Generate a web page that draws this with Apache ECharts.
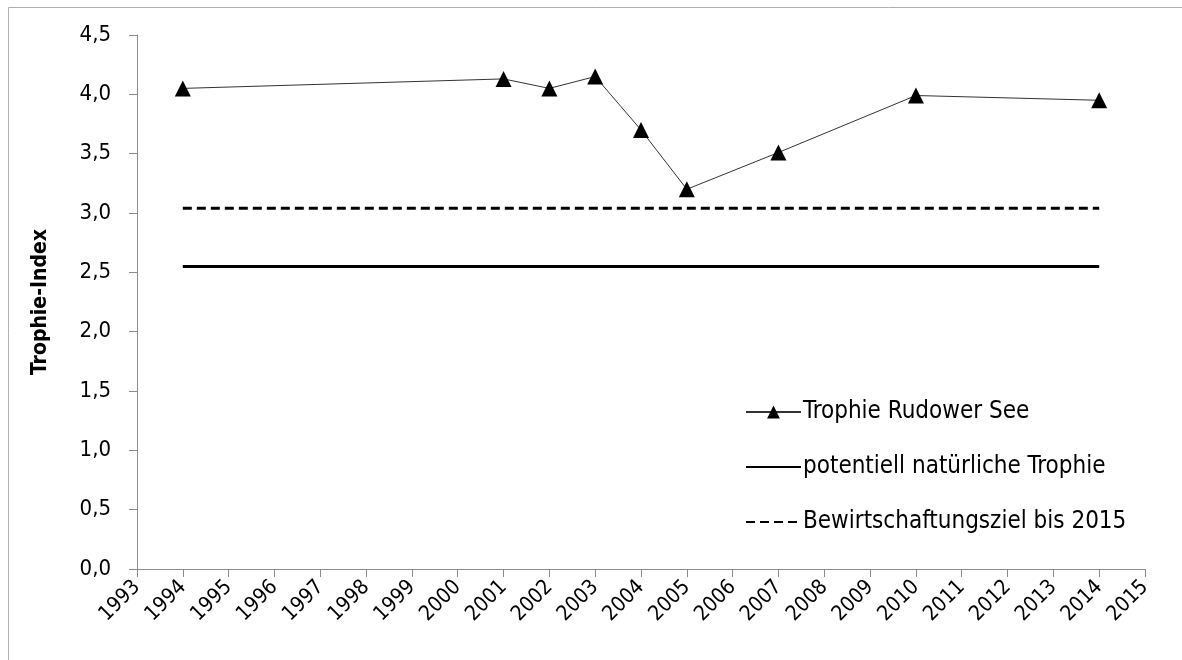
<!DOCTYPE html>
<html>
<head>
<meta charset="utf-8">
<script src="https://cdn.jsdelivr.net/npm/echarts@6/dist/echarts.min.js"></script>
<style>
html,body{margin:0;padding:0;background:#fff;}
#chart{width:1182px;height:660px;}
</style>
</head>
<body>
<div id="chart"></div>
<script>
const years = ['1993','1994','1995','1996','1997','1998','1999','2000','2001','2002','2003','2004','2005','2006','2007','2008','2009','2010','2011','2012','2013','2014','2015'];
const trophieYears = ['1994','2001','2002','2003','2004','2005','2007','2010','2014'];
const trophieValues = [4.05, 4.13, 4.05, 4.15, 3.70, 3.20, 3.51, 3.99, 3.95];
const naturalYears = ['1994','2014'];
const naturalValues = [2.55, 2.55];
const targetYears = ['1994','2014'];
const targetValues = [3.04, 3.04];
const seriesNames = ['Trophie Rudower See','potentiell natürliche Trophie','Bewirtschaftungsziel bis 2015'];

const FONT = '"DejaVu Sans Condensed", "Liberation Sans Narrow", sans-serif';
const pairs = (xs, ys) => xs.map((x, i) => [x, ys[i]]);

const chart = echarts.init(document.getElementById('chart'));
chart.setOption({
  animation: false,
  backgroundColor: '#fff',
  textStyle: { fontFamily: FONT },
  graphic: [{
    type: 'polyline',
    shape: { points: [[8.5, 660], [8.5, 7.5], [1182, 7.5]] },
    style: { stroke: '#b0b0b0', lineWidth: 1, fill: null }
  }],
  grid: { left: 137, right: 37, top: 35, bottom: 91 },
  xAxis: {
    type: 'category',
    data: years,
    boundaryGap: false,
    axisLine: { lineStyle: { color: '#8c8c8c', width: 1 } },
    axisTick: { show: true, length: 8, interval: 0, lineStyle: { color: '#8c8c8c' } },
    axisLabel: { interval: 0, rotate: 45, fontSize: 21, color: '#000', fontFamily: FONT, margin: 15 },
    splitLine: { show: false }
  },
  yAxis: {
    type: 'value',
    min: 0, max: 4.5, interval: 0.5,
    name: 'Trophie-Index',
    nameLocation: 'middle',
    nameGap: 86,
    nameTextStyle: { fontSize: 21, fontWeight: 'bold', color: '#000', fontFamily: FONT },
    axisLine: { show: true, lineStyle: { color: '#8c8c8c', width: 1 } },
    axisTick: { show: true, length: 8, lineStyle: { color: '#8c8c8c' } },
    axisLabel: { fontSize: 22, color: '#000', fontFamily: FONT, margin: 26,
      formatter: v => v.toFixed(1).replace('.', ',') },
    splitLine: { show: false }
  },
  legend: {
    orient: 'vertical',
    left: 745, top: 400,
    padding: 0,
    itemWidth: 55, itemHeight: 16,
    itemGap: 31,
    textStyle: { fontSize: 24, lineHeight: 24, color: '#000', fontFamily: FONT, padding: [0, 0, 0, -3] },
    data: [
      { name: seriesNames[0] },
      { name: seriesNames[1], itemStyle: { opacity: 0 } },
      { name: seriesNames[2], itemStyle: { opacity: 0 } }
    ]
  },
  series: [
    {
      name: seriesNames[0],
      type: 'line',
      data: pairs(trophieYears, trophieValues),
      symbol: 'triangle', symbolSize: 16,
      itemStyle: { color: '#000' },
      lineStyle: { color: '#333', width: 1 }
    },
    {
      name: seriesNames[1],
      type: 'line',
      data: pairs(naturalYears, naturalValues),
      symbol: 'none',
      itemStyle: { color: '#000', opacity: 0 },
      lineStyle: { color: '#000', width: 3, opacity: 1 }
    },
    {
      name: seriesNames[2],
      type: 'line',
      data: pairs(targetYears, targetValues),
      symbol: 'none',
      itemStyle: { color: '#000', opacity: 0 },
      lineStyle: { color: '#000', width: 3, type: [9, 5], opacity: 1 }
    }
  ]
});
</script>
</body>
</html>
